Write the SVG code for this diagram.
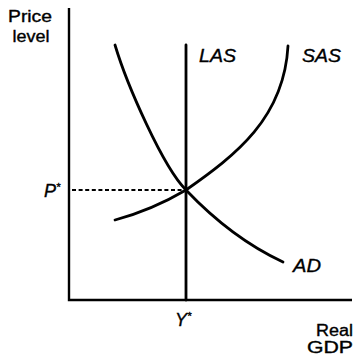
<svg xmlns="http://www.w3.org/2000/svg" width="354" height="356" viewBox="0 0 354 356">
<style>
.ax{stroke:#000;stroke-width:2.4;fill:none}
.cv{stroke:#000;stroke-width:2.8;fill:none;stroke-linecap:round}
.ds{stroke:#000;stroke-width:1.9;fill:none;stroke-dasharray:4 2.6}
text{font-family:"Liberation Sans",Arial,Helvetica,sans-serif;fill:#000;stroke:#000;stroke-width:0.35}
.lb{font-size:16px}
.it{font-size:18px;font-style:italic}
</style>
<rect width="354" height="356" fill="#fff"/>
<g id="axes">
<path class="ax" d="M69,8 V300 H352"/>
<text class="lb" x="30" y="22" text-anchor="middle" textLength="44" lengthAdjust="spacingAndGlyphs">Price</text>
<text class="lb" x="31" y="42" text-anchor="middle" textLength="37" lengthAdjust="spacingAndGlyphs">level</text>
<text class="lb" x="353" y="336" text-anchor="end" textLength="37" lengthAdjust="spacingAndGlyphs">Real</text>
<text class="lb" x="353" y="353" text-anchor="end" textLength="46" lengthAdjust="spacingAndGlyphs">GDP</text>
</g>
<g id="connectors">
<path class="ds" d="M72,190 H186"/>
</g>
<g id="LAS">
<path class="cv" d="M186,45 V300"/>
<text class="it" x="199" y="62" textLength="37" lengthAdjust="spacingAndGlyphs">LAS</text>
</g>
<g id="SAS">
<path class="cv" d="M115,220 Q152,210 186,190 C236,155 284,118 288,46"/>
<text class="it" x="302" y="62" textLength="39" lengthAdjust="spacingAndGlyphs">SAS</text>
</g>
<g id="AD">
<path class="cv" d="M115,45 C127,85 163,167 186,190 C205,210 240,242 283,262"/>
<text class="it" x="293" y="272" textLength="28" lengthAdjust="spacingAndGlyphs">AD</text>
</g>
<g id="P-star">
<text class="it" x="44" y="197">P<tspan font-size="11" dy="-6">*</tspan></text>
</g>
<g id="Y-star">
<text class="it" x="175" y="326">Y<tspan font-size="11" dy="-6">*</tspan></text>
</g>
</svg>
